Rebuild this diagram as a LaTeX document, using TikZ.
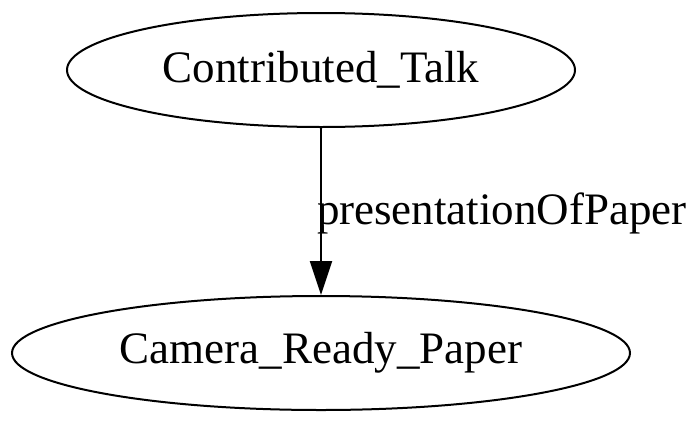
\documentclass[tikz,border=0pt]{standalone}
\usepackage{fontspec}
\setmainfont{Liberation Serif}
\usetikzlibrary{arrows.meta,shapes.geometric}
\begin{document}
\begin{tikzpicture}[x=1pt,y=-1pt,
  elli/.style={draw,line width=2pt,ellipse,inner sep=0pt,font=\fontsize{45}{49}\selectfont},
  conn/.style={line width=2pt,-{Triangle[length=34pt,width=22pt]}},
  lbl/.style={font=\fontsize{45}{49}\selectfont,inner sep=0pt,anchor=west}]
\useasboundingbox (0,0) rectangle (700,423);
\node[elli,minimum width=508pt,minimum height=114pt] (ct) at (321,70) {Contributed\_Talk};
\node[elli,minimum width=618pt,minimum height=114pt] (crp) at (321,353) {Camera\_Ready\_Paper};
\draw[conn] (ct) -- (crp) node[lbl] at (316,213) {presentationOfPaper};
\end{tikzpicture}
\end{document}
